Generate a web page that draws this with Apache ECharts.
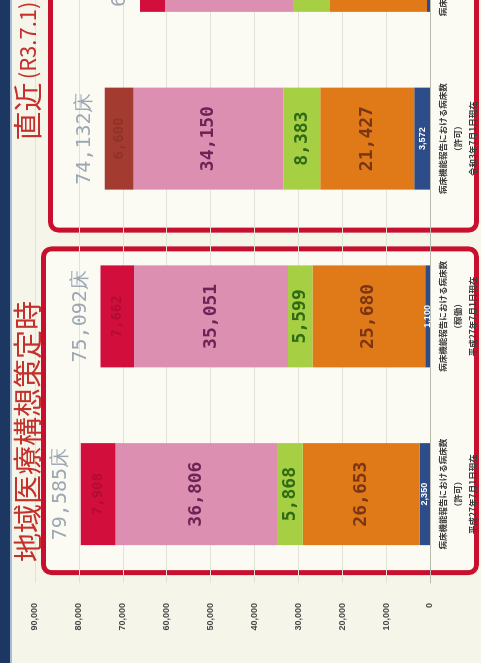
<!DOCTYPE html>
<html>
<head>
<meta charset="utf-8">
<script src="https://cdn.jsdelivr.net/npm/echarts@6/dist/echarts.min.js"></script>
<style>
  html, body { margin: 0; padding: 0; width: 481px; height: 663px; overflow: hidden; background: #f5f5e9; }
  /* the slide is laid out landscape and turned a quarter turn counter-clockwise */
  #wrap {
    position: absolute; left: 0; top: 0;
    width: 800px; height: 481px;
    transform-origin: 0 0;
    transform: translateY(663px) rotate(-90deg);
  }
</style>
</head>
<body>
<div id="wrap"></div>
<script>
// 病床機能報告の機能別病床数（床）
const categories = [
  '病床機能報告における病床数\n（許可）\n平成27年7月1日現在',
  '病床機能報告における病床数\n（稼働）\n平成27年7月1日現在',
  '病床機能報告における病床数\n（許可）\n令和3年7月1日現在',
  '病床機能報告における病床数\n（稼働）\n令和3年7月1日現在'
];
const highAcute = [7908, 7662, 6600, 5700];    // 高度急性期
const acute     = [36806, 35051, 34150, 29150]; // 急性期
const recovery  = [5868, 5599, 8383, 8430];     // 回復期
const chronic   = [26653, 25680, 21427, 22100]; // 慢性期
const other     = [2350, 1100, 3572, 680];      // 休棟等
const totals    = [79585, 75092, 74132, 66060];
const valueTicks = [0, 10000, 20000, 30000, 40000, 50000, 60000, 70000, 80000, 90000];

const fmt = v => Number(v).toLocaleString('en-US');
const monoBold = { fontFamily: 'DejaVu Sans Mono', fontWeight: 'bold', fontSize: 18 };

function seg(name, data, color, label) {
  return {
    name, type: 'bar', stack: 'beds', data, barWidth: 102,
    itemStyle: { color },
    label: Object.assign({ show: true, position: 'inside', formatter: p => fmt(p.value) }, label)
  };
}

const chart = echarts.init(document.getElementById('wrap'), null, { width: 800, height: 481 });

const option = {
  animation: false,
  backgroundColor: 'transparent',
  grid: { left: 80, right: 9, top: 35, bottom: 51 },
  xAxis: {
    type: 'category',
    data: categories,
    axisLine: { show: true, lineStyle: { color: '#b9b9b0' } },
    axisTick: { show: false },
    axisLabel: {
      interval: 0, margin: 5, fontSize: 8.5, lineHeight: 15,
      fontWeight: 'bold', color: '#3c3c3c', fontFamily: 'Noto Sans CJK JP'
    }
  },
  yAxis: {
    type: 'value',
    min: valueTicks[0], max: valueTicks[valueTicks.length - 1], interval: 10000,
    axisLine: { show: false },
    axisTick: { show: false },
    splitLine: { lineStyle: { color: '#e2e2d6', width: 1 } },
    axisLabel: { margin: 20, fontSize: 9, fontWeight: 'bold', color: '#4a4a4a', fontFamily: 'Liberation Sans' }
  },
  series: [
    seg('休棟等', other, '#2c4d8a', { color: '#ffffff', fontSize: 9, fontWeight: 'bold', fontFamily: 'Liberation Sans' }),
    seg('慢性期', chronic, '#e07a18', Object.assign({ color: '#7a3612' }, monoBold)),
    seg('回復期', recovery, '#a6cf43', Object.assign({ color: '#2f6a14' }, monoBold)),
    seg('急性期', acute, '#dc8fb0', Object.assign({ color: '#6c2456' }, monoBold)),
    {
      name: '高度急性期', type: 'bar', stack: 'beds', barWidth: 102,
      data: highAcute.map((v, i) => i === 2
        ? { value: v, itemStyle: { color: '#a43b31' }, label: { color: '#903229' } }
        : v),
      itemStyle: { color: '#d20f3c' },
      label: Object.assign({ show: true, position: 'inside', formatter: p => fmt(p.value), color: '#b20c34' }, monoBold, { fontSize: 14 })
    },
    {
      name: '合計', type: 'scatter', data: totals, symbolSize: 2,
      itemStyle: { color: 'rgba(0,0,0,0)' },
      label: {
        show: true, position: 'top', distance: 9,
        formatter: p => fmt(p.value) + '床',
        color: '#8592a2', fontSize: 20, fontFamily: 'DejaVu Sans Mono'
      },
      z: 5
    }
  ]
};
chart.setOption(option);

// frames and headings placed relative to the category positions
const cx = i => chart.convertToPixel({ xAxisIndex: 0 }, categories[i]);
const c0 = cx(0), c1 = cx(1), c2 = cx(2);
const frameStroke = '#c8102e';
chart.setOption({
  graphic: [
    { type: 'rect', z: -5, silent: true, shape: { x: 0, y: 0, width: 800, height: 10 }, style: { fill: '#1d3763' } },
    { type: 'rect', z: -5, silent: true, shape: { x: 0, y: 10, width: 800, height: 2 }, style: { fill: '#a9bbd3' } },
    { type: 'rect', z: -1, silent: true,
      shape: { x: c0 - 78.5, y: 43.5, width: (c1 + 67.5) - (c0 - 78.5), height: 433, r: 8 },
      style: { fill: '#fbfbf4', stroke: frameStroke, lineWidth: 5 } },
    { type: 'rect', z: -1, silent: true,
      shape: { x: c2 - 91.5, y: 50.5, width: 400, height: 426, r: 8 },
      style: { fill: '#fbfbf4', stroke: frameStroke, lineWidth: 5 } },
    { type: 'text', z: 10, silent: true, x: c0 - 68, y: 28,
      style: { text: '地域医療構想策定時', fill: '#c4302c', fontSize: 29, fontFamily: 'Noto Sans CJK JP', verticalAlign: 'middle' } },
    { type: 'text', z: 10, silent: true, x: c2 - 2, y: 28,
      style: {
        text: '{a|直近} {b|(R3.7.1)}',
        verticalAlign: 'middle',
        rich: {
          a: { fill: '#c4302c', fontSize: 29, fontFamily: 'Noto Sans CJK JP' },
          b: { fill: '#c4302c', fontSize: 22, fontFamily: 'Noto Sans CJK JP' }
        }
      } }
  ]
});
</script>
</body>
</html>
